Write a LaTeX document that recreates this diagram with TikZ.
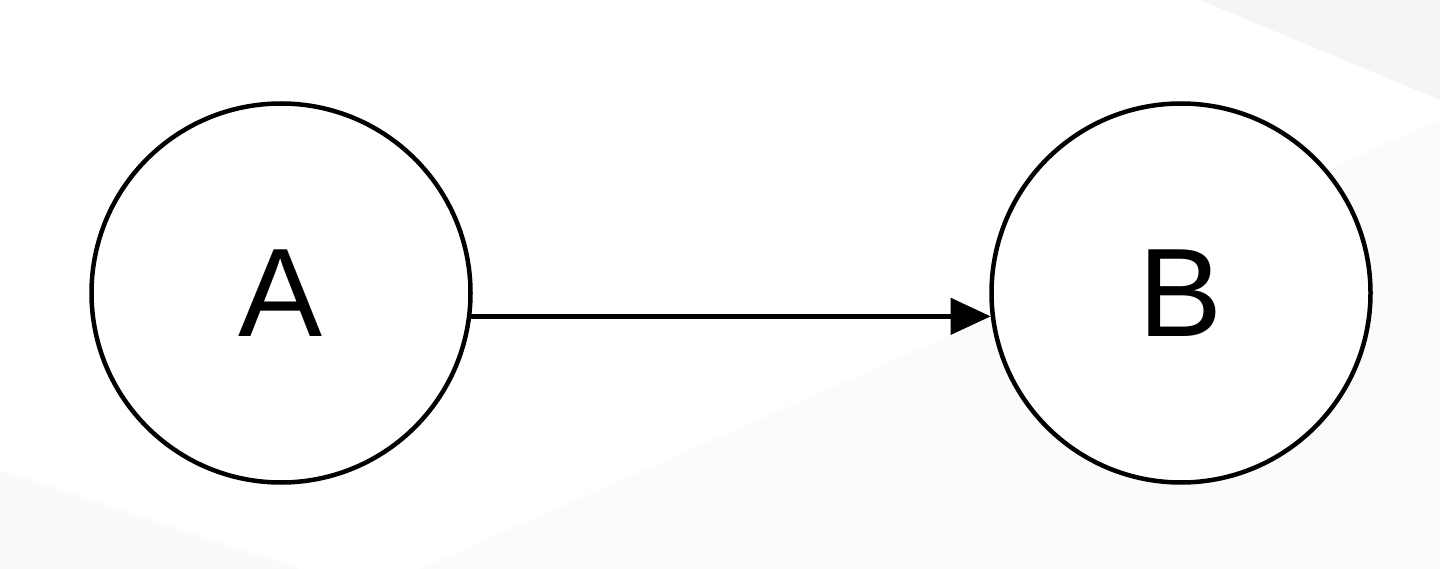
\documentclass[tikz,border=0pt]{standalone}
\usepackage{fontspec}
\setmainfont{Liberation Sans}
\usetikzlibrary{arrows.meta}
\begin{document}
\begin{tikzpicture}[x=1pt,y=-1pt,
  vertex/.style={circle,draw=black,line width=4.5pt,fill=white,minimum size=379pt,inner sep=0pt,font=\fontsize{126}{130}\selectfont},
  edge/.style={line width=4.5pt,-{Triangle[length=40pt,width=36pt]}}]
\useasboundingbox (0,0) rectangle (1440,569);
\fill[white] (0,0) rectangle (1440,569);
\fill[black!1.5] (420,569) -- (1440,120) -- (1440,569) -- cycle;
\fill[black!2] (0,569) -- (0,470) -- (300,569) -- cycle;
\fill[black!4] (1200,0) -- (1440,0) -- (1440,100) -- cycle;
\node[vertex] (A) at (281,293) {\raisebox{-0.12em}{A}};
\node[vertex] (B) at (1181,293) {\raisebox{-0.12em}{B}};
\draw[edge] (A.-7) -- (B.187);
\end{tikzpicture}
\end{document}
